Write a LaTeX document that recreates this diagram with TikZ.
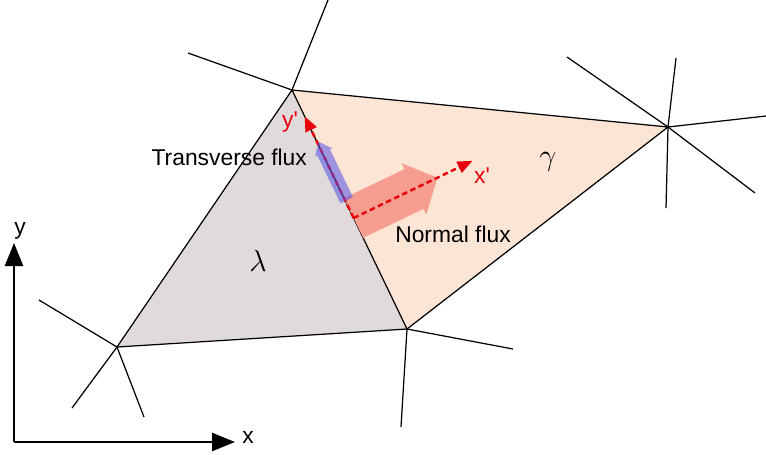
\documentclass[tikz,border=0pt]{standalone}
\usepackage{fontspec}
\setmainfont{Liberation Sans}
\usepackage{tikz}
\usetikzlibrary{arrows.meta,calc}
\definecolor{fvGray}{HTML}{E0DADB}
\definecolor{fvPeach}{HTML}{FDE5D5}
\definecolor{fvSalmon}{HTML}{F79D8F}
\definecolor{fvBlue}{HTML}{5050E6}
\definecolor{fvRed}{HTML}{E8000B}
\newcommand\sq{{\XeTeXglyph\XeTeXcharglyph"27\relax}}

\begin{document}
\begin{tikzpicture}[x=0.02cm, y=-0.02cm,
    mesh/.style={line width=0.7pt, black},
    axis/.style={line width=1.4pt, -{Triangle[length=0.46cm, width=0.36cm]}},
    local/.style={fvRed, line width=1.4pt, dash pattern=on 0.11cm off 0.07cm,
                  -{Triangle[length=0.3cm, width=0.24cm]}},
    lbl/.style={font=\fontsize{13}{15}\selectfont, inner sep=1pt},
    cell/.style={font=\fontsize{19}{22}\selectfont}
  ]
  \useasboundingbox (0,0) rectangle (766,454);

  % mesh vertices
  \coordinate (A) at (292,90);
  \coordinate (B) at (117,347);
  \coordinate (C) at (407,329);
  \coordinate (D) at (668,127);

  % the two cells
  \fill[fvGray]  (A) -- (B) -- (C) -- cycle;
  \fill[fvPeach] (A) -- (C) -- (D) -- cycle;
  \draw[mesh] (A) -- (B) -- (C) -- (D) -- cycle;
  \draw[mesh] (A) -- (C);

  % neighbouring edges
  \draw[mesh] (A) -- (328,0);
  \draw[mesh] (A) -- (188,53);
  \draw[mesh] (D) -- (567,57);
  \draw[mesh] (D) -- (676,58);
  \draw[mesh] (D) -- (766,116);
  \draw[mesh] (D) -- (755,193);
  \draw[mesh] (D) -- (666,208);
  \draw[mesh] (B) -- (39,300);
  \draw[mesh] (B) -- (72,408);
  \draw[mesh] (B) -- (144,417);
  \draw[mesh] (C) -- (401,427);
  \draw[mesh] (C) -- (513,349);

  % local frame on the face
  \coordinate (O)  at ($(A)!0.5356!(C)$);
  \coordinate (Yp) at ($(A)!0.11!(C)$);
  \coordinate (Xp) at ($(O)!2.64cm!-90:(A)$);

  % normal flux
  \begin{scope}[shift={(O)}, rotate=25.7]
    \fill[fvSalmon] (0,-22) -- (67,-22) -- (67,-28.5) -- (93,0) -- (67,28.5) -- (67,22) -- (0,22) -- cycle;
  \end{scope}

  \draw[local] (O) -- (Yp);
  \draw[local] (O) -- (Xp);

  % transverse flux
  \begin{scope}[shift={(O)}, rotate=115.7]
    \fill[fvBlue, fill opacity=0.55] (19,-5.5) -- (72,-5.5) -- (72,-8) -- (84,1.5) -- (72,11) -- (72,8.5) -- (19,8.5) -- cycle;
  \end{scope}

  % global axes
  \coordinate (org) at (14,442);
  \coordinate (ytip) at (14,243);
  \coordinate (xtip) at (235,442);
  \draw[axis] (org) -- (ytip);
  \draw[axis] (org) -- (xtip);

  \node[lbl] (yax) at (20,231) {y};
  \node[lbl] (xax) at (248,437) {x};
  \node[lbl, text=fvRed] (yl) at (290,122) {y\sq};
  \node[lbl, text=fvRed] (xl) at (482,176) {x\sq};
  \node[lbl, anchor=east] (tf) at (309,157) {Transverse flux};
  \node[lbl] (nf) at (453,234) {Normal flux};
  \node[cell] (lam) at (258,261) {$\lambda$};
  \node[cell] (gam) at (548,162) {$\gamma$};
\end{tikzpicture}
\end{document}
